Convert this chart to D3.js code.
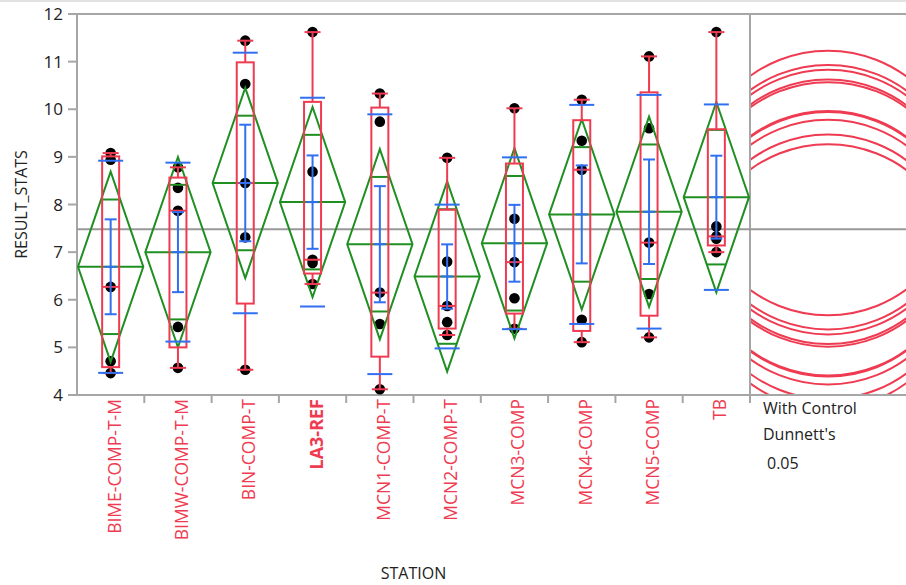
<!DOCTYPE html>
<html><head><meta charset="utf-8">
<script src="https://cdn.jsdelivr.net/npm/d3@7"></script>
<style>
body{margin:0;background:#fff}
svg{display:block}
text{font-family:"Open Sans",sans-serif}
</style>
</head><body>
<svg id="chart" width="906" height="585"></svg>
<script>
// ---------- data ----------
const stations = ["BIME-COMP-T-M","BIMW-COMP-T-M","BIN-COMP-T","LA3-REF","MCN1-COMP-T","MCN2-COMP-T","MCN3-COMP","MCN4-COMP","MCN5-COMP","TB"];
const controlStation = "LA3-REF";
const bimeCompTM = [9.08, 8.94, 6.27, 4.71, 4.46];
const bimwCompTM = [8.78, 8.35, 7.87, 5.43, 4.57];
const binCompT   = [11.44, 10.53, 8.45, 7.31, 4.53];
const la3Ref     = [11.62, 8.69, 6.84, 6.77, 6.33];
const mcn1CompT  = [10.33, 9.74, 6.15, 5.49, 4.12];
const mcn2CompT  = [8.98, 6.80, 5.87, 5.53, 5.26];
const mcn3Comp   = [10.02, 7.70, 6.79, 6.03, 5.39];
const mcn4Comp   = [10.20, 9.34, 8.73, 5.58, 5.11];
const mcn5Comp   = [11.11, 9.60, 7.20, 6.12, 5.21];
const tb         = [11.62, 7.54, 7.33, 7.28, 7.00];
const resultStats = [bimeCompTM, bimwCompTM, binCompT, la3Ref, mcn1CompT, mcn2CompT, mcn3Comp, mcn4Comp, mcn5Comp, tb];
const yTicks = [4,5,6,7,8,9,10,11,12];
const yTitle = "RESULT_STATS";
const xTitle = "STATION";
const legendLines = ["With Control","Dunnett's"];
const alphaLabel = "0.05";
const tCrit = 2.021;      // t(0.975, df=40)
const dunnettCrit = 2.81; // Dunnett two-sided, 9 comparisons, df=40

// ---------- styles ----------
const RED = "#ef3b51", BLUE = "#2f6ff0", GREEN = "#1f8f22", GRAY = "#a6a6a6";

const svg = d3.select("#chart");
const L = 77, R = 750, T = 14, B = 395, PR = 906;

const x = d3.scaleBand().domain(stations).range([L, R]).padding(0);
const y = d3.scaleLinear().domain([4, 12]).range([B, T]);
const pxPerUnit = (B - T) / 8;

function jmpQ(s, p) {
  const n = s.length, pos = p * (n + 1), lo = Math.floor(pos), fr = pos - lo;
  if (lo < 1) return s[0];
  if (lo >= n) return s[n - 1];
  return s[lo - 1] + fr * (s[lo] - s[lo - 1]);
}

const groups = stations.map((st, i) => {
  const v = resultStats[i];
  const s = v.slice().sort(d3.ascending);
  const mean = d3.mean(v), sd = d3.deviation(v), n = v.length;
  const q1 = jmpQ(s, 0.25), med = jmpQ(s, 0.5), q3 = jmpQ(s, 0.75);
  const iqr = q3 - q1;
  const lo = d3.min(s.filter(d => d >= q1 - 1.5 * iqr));
  const hi = d3.max(s.filter(d => d <= q3 + 1.5 * iqr));
  return {st, v, mean, sd, n, q1, med, q3, lo, hi, ss: d3.sum(v, d => (d - mean) ** 2)};
});
const N = d3.sum(groups, g => g.n);
const dfE = N - groups.length;
const pooledSD = Math.sqrt(d3.sum(groups, g => g.ss) / dfE);
const grandMean = d3.mean(resultStats.flat());

// faint window line
svg.append("line").attr("x1",0).attr("x2",PR).attr("y1",1).attr("y2",1).attr("stroke","#e2e2e2").attr("stroke-width",2);

// frame
const frame = svg.append("g").attr("stroke", GRAY).attr("stroke-width", 2).attr("fill","none");
frame.append("line").attr("x1", L).attr("x2", PR).attr("y1", T).attr("y2", T);
frame.append("line").attr("x1", L).attr("x2", PR).attr("y1", B).attr("y2", B);
frame.append("line").attr("x1", L).attr("x2", L).attr("y1", T).attr("y2", B);
frame.append("line").attr("x1", R).attr("x2", R).attr("y1", T).attr("y2", B + 8);

// y axis ticks + labels
const yAxis = svg.append("g");
yAxis.selectAll("line").data(yTicks).join("line")
  .attr("x1", L - 9).attr("x2", L).attr("y1", d => y(d)).attr("y2", d => y(d))
  .attr("stroke", GRAY).attr("stroke-width", 2);
yAxis.selectAll("text").data(yTicks).join("text")
  .attr("x", L - 14).attr("y", d => y(d)).attr("dy", "0.36em")
  .attr("text-anchor", "end").attr("font-size", 17).attr("fill", "#222")
  .text(d => d);

// x ticks at band boundaries
svg.append("g").selectAll("line").data(stations.slice(1)).join("line")
  .attr("x1", d => x(d)).attr("x2", d => x(d)).attr("y1", B).attr("y2", B + 8)
  .attr("stroke", GRAY).attr("stroke-width", 2);

// x labels
svg.append("g").selectAll("text").data(stations).join("text")
  .attr("transform", d => `translate(${x(d) + x.bandwidth() / 2 + 10},${B + 4}) rotate(-90)`)
  .attr("text-anchor", "end")
  .attr("font-size", d => d === controlStation ? 18 : 17.5)
  .attr("font-weight", d => d === controlStation ? "bold" : "normal")
  .attr("fill", RED).text(d => d);

// axis titles
svg.append("text").attr("transform", `translate(27,${(T + B) / 2}) rotate(-90)`)
  .attr("text-anchor", "middle").attr("font-size", 16).attr("fill", "#222").text(yTitle);
svg.append("text").attr("x", (L + R) / 2).attr("y", 579)
  .attr("text-anchor", "middle").attr("font-size", 16).attr("fill", "#222").text(xTitle);

// Dunnett legend text
svg.append("g").selectAll("text").data(legendLines).join("text")
  .attr("x", 763).attr("y", (d, i) => 414 + i * 26)
  .attr("font-size", 16).attr("fill", "#222").text(d => d);
svg.append("text").attr("x", 767).attr("y", 469).attr("font-size", 16).attr("fill", "#222").text(alphaLabel);

// grand mean line
svg.append("line").attr("x1", L).attr("x2", PR).attr("y1", y(grandMean)).attr("y2", y(grandMean))
  .attr("stroke", "#999").attr("stroke-width", 2);

const bw = x.bandwidth();
const plot = svg.append("g");

// points
plot.append("g").selectAll("circle")
  .data(groups.flatMap(g => g.v.map(v => ({st: g.st, v}))))
  .join("circle")
  .attr("cx", d => x(d.st) + bw / 2).attr("cy", d => y(d.v)).attr("r", 5.3).attr("fill", "#000");

// mean diamonds
const dia = plot.append("g").attr("stroke", GREEN).attr("stroke-width", 2).attr("fill", "none");
groups.forEach(g => {
  const se = pooledSD / Math.sqrt(g.n), ci = tCrit * se;
  const x0 = x(g.st) + 1, x1 = x(g.st) + bw - 1, xc = x(g.st) + bw / 2;
  dia.append("polygon").attr("points",
    [[x0, y(g.mean)], [xc, y(g.mean + ci)], [x1, y(g.mean)], [xc, y(g.mean - ci)]].map(p => p.join(",")).join(" "));
  dia.append("line").attr("x1", x0).attr("x2", x1).attr("y1", y(g.mean)).attr("y2", y(g.mean));
  const hw = (bw / 2 - 1) * (1 - 1 / Math.SQRT2);
  [1, -1].forEach(sg => {
    const yy = y(g.mean + sg * ci / Math.SQRT2);
    dia.append("line").attr("x1", xc - hw).attr("x2", xc + hw).attr("y1", yy).attr("y2", yy);
  });
});

// box plots
const box = plot.append("g").attr("stroke", RED).attr("stroke-width", 2).attr("fill", "none");
groups.forEach(g => {
  const xc = x(g.st) + bw / 2, w = 17, cw = 16;
  box.append("rect").attr("x", xc - w / 2).attr("width", w).attr("y", y(g.q3)).attr("height", y(g.q1) - y(g.q3));
  box.append("line").attr("x1", xc - w / 2).attr("x2", xc + w / 2).attr("y1", y(g.med)).attr("y2", y(g.med));
  box.append("line").attr("x1", xc).attr("x2", xc).attr("y1", y(g.q3)).attr("y2", y(g.hi));
  box.append("line").attr("x1", xc).attr("x2", xc).attr("y1", y(g.q1)).attr("y2", y(g.lo));
  box.append("line").attr("x1", xc - cw / 2).attr("x2", xc + cw / 2).attr("y1", y(g.hi)).attr("y2", y(g.hi));
  box.append("line").attr("x1", xc - cw / 2).attr("x2", xc + cw / 2).attr("y1", y(g.lo)).attr("y2", y(g.lo));
});

// mean error bars (±SE) and std dev lines (±SD)
const blue = plot.append("g").attr("stroke", BLUE).attr("stroke-width", 2).attr("fill", "none");
groups.forEach(g => {
  const xc = x(g.st) + bw / 2, se = g.sd / Math.sqrt(g.n);
  blue.append("line").attr("x1", xc).attr("x2", xc).attr("y1", y(g.mean + se)).attr("y2", y(g.mean - se));
  [g.mean + se, g.mean, g.mean - se].forEach(v =>
    blue.append("line").attr("x1", xc - 6).attr("x2", xc + 6).attr("y1", y(v)).attr("y2", y(v)));
  [g.mean + g.sd, g.mean - g.sd].forEach(v =>
    blue.append("line").attr("x1", xc - 12.5).attr("x2", xc + 12.5).attr("y1", y(v)).attr("y2", y(v)));
});

// Dunnett comparison circles
svg.append("clipPath").attr("id", "cc").append("rect")
  .attr("x", R + 1).attr("y", T + 1).attr("width", PR - R - 1).attr("height", B - T - 2);
const cx = (R + PR) / 2;
svg.append("g").attr("clip-path", "url(#cc)").selectAll("circle").data(groups).join("circle")
  .attr("cx", cx).attr("cy", g => y(g.mean))
  .attr("r", g => dunnettCrit * pooledSD / Math.sqrt(g.n) * pxPerUnit)
  .attr("fill", "none").attr("stroke", RED).attr("stroke-width", 2);
</script>
</body></html>
